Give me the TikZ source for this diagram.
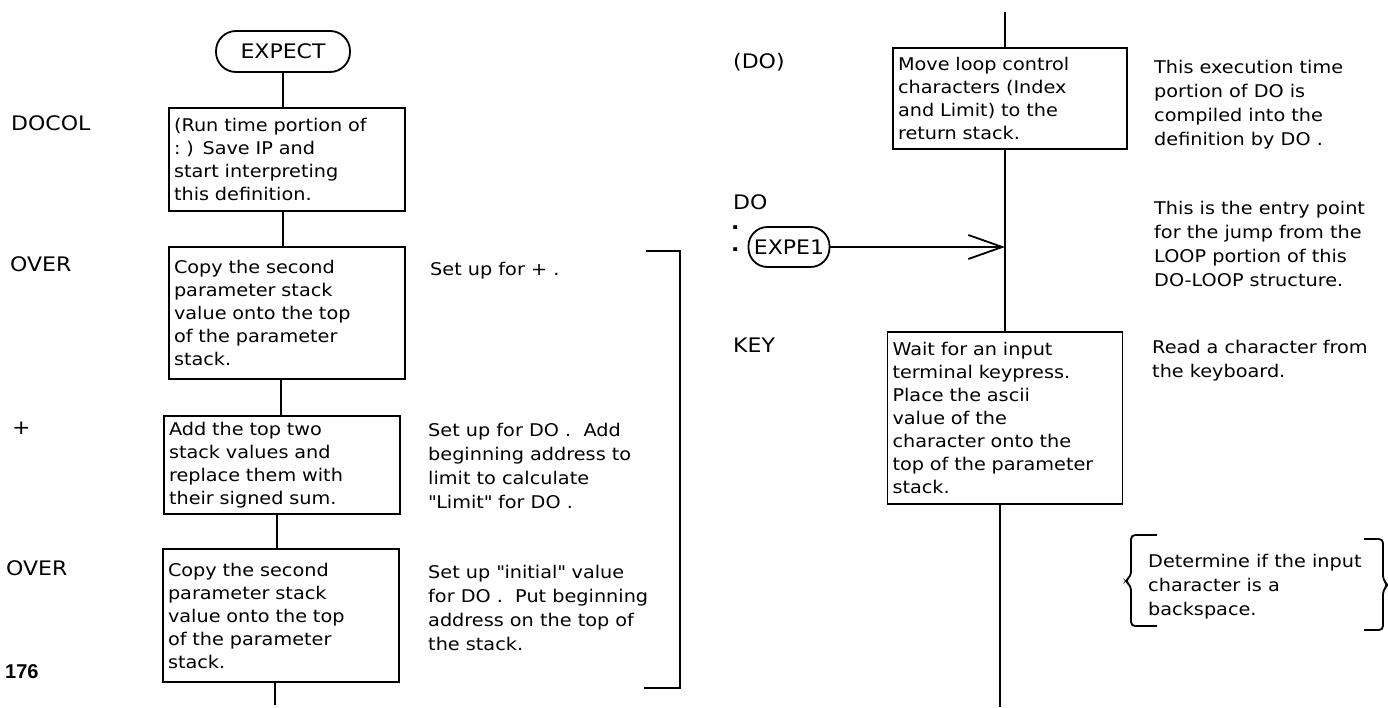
\documentclass[tikz,border=0pt]{standalone}
\usepackage{fontspec}
\setmainfont[FakeStretch=1.1]{DejaVu Sans}
\newfontfamily\pagenumfont{Liberation Sans}
\usetikzlibrary{arrows.meta}
\begin{document}
\begin{tikzpicture}[x=1pt,y=-1pt,
  every node/.style={inner sep=0pt},
  proc/.style={draw, line width=1.8pt, inner xsep=5pt, inner ysep=0pt, align=left,
    font=\fontsize{17.5}{23}\selectfont},
  term/.style={draw, line width=1.8pt, rounded corners=#1, font=\fontsize{20}{24}\selectfont},
  lbl/.style={anchor=west, font=\fontsize{20}{24}\selectfont},
  note/.style={anchor=north west, align=left, font=\fontsize{17.5}{24}\selectfont},
  conn/.style={line width=1.8pt},
  arr/.style={line width=1.8pt, -{Straight Barb[length=34pt,width=24pt]}}
]
\useasboundingbox (0,0) rectangle (1388,707);

% ---- left column ----
\node[term=20pt, minimum width=134pt, minimum height=41pt] (expect) at (283,51.5) {EXPECT};
\node[proc, text width=226pt, minimum height=103pt] (b1) at (287,159.5)
  {(Run time portion of\\:~) Save IP and\\start interpreting\\this definition.};
\node[proc, text width=226pt, minimum height=132pt] (b2) at (287,313)
  {Copy the second\\parameter stack\\value onto the top\\of the parameter\\stack.};
\node[proc, text width=226pt, minimum height=98pt] (b3) at (282,465)
  {Add the top two\\stack values and\\replace them with\\their signed sum.};
\node[proc, text width=226pt, minimum height=133pt] (b4) at (281,615.5)
  {Copy the second\\parameter stack\\value onto the top\\of the parameter\\stack.};

\node[lbl] (lDOCOL) at (11,123) {DOCOL};
\node[lbl] (lOVERa) at (10,264) {OVER};
\node[lbl] (lPLUS) at (12,428) {+};
\node[lbl] (lOVERb) at (6,568) {OVER};
\node[anchor=west, font=\pagenumfont\bfseries\fontsize{20}{24}\selectfont] (pnum) at (5,672) {176};

\node[note] (n2) at (430,262) {Set up for +~.};
\node[note] (n3) at (428,423) {Set up for DO~.~~Add\\beginning address to\\limit to calculate\\\textquotedbl Limit\textquotedbl{} for DO~.};
\node[note] (n4) at (428,565) {Set up \textquotedbl initial\textquotedbl{} value\\for DO~.~~Put beginning\\address on the top of\\the stack.};

\draw[conn] (expect.south) -- (expect.south |- b1.north);
\draw[conn] ([xshift=-4pt]b1.south) -- ([xshift=-4pt]b1.south |- b2.north);
\draw[conn] ([xshift=-6pt]b2.south) -- ([xshift=-6pt]b2.south |- b3.north);
\draw[conn] ([xshift=-5pt]b3.south) -- ([xshift=-5pt]b3.south |- b4.north);
\coordinate (lbot) at (275,705);
\draw[conn] ([xshift=-6pt]b4.south) -- ([xshift=-6pt]b4.south |- lbot);

% bracket
\draw[conn] (646,251) -- (680,251) -- (680,688) -- (644,688);

% ---- right column ----
\node[proc, text width=224pt, minimum height=101pt] (b5) at (1010,98.5)
  {Move loop control\\characters (Index\\and Limit) to the\\return stack.};
\node[proc, text width=225pt, minimum height=172pt] (b6) at (1005,418)
  {Wait for an input\\terminal keypress.\\Place the ascii\\value of the\\character onto the\\top of the parameter\\stack.};
\node[term=19pt, minimum width=81pt, minimum height=40pt] (expe1) at (789,247) {EXPE1};

\node[lbl] (lPDO) at (733,62) {(DO)};
\node[lbl] (lDO) at (733,202) {DO};
\node[lbl, font=\bfseries\fontsize{20}{24}\selectfont] (dota) at (731,228) {.};
\node[lbl, font=\bfseries\fontsize{20}{24}\selectfont] (dotb) at (731,250) {.};
\node[lbl] (lKEY) at (733,345) {KEY};

\node[note] (n5) at (1154,60) {This execution time\\portion of DO is\\compiled into the\\definition by DO~.};
\node[note] (n6) at (1154,201) {This is the entry point\\for the jump from the\\LOOP portion of this\\DO-LOOP structure.};
\node[note] (n7) at (1152,340) {Read a character from\\the keyboard.};
\node[note] (n8) at (1148,554) {Determine if the input\\character is a\\backspace.};

\coordinate (rtop) at (1005,12);
\draw[conn] (rtop) -- (rtop |- b5.north);
\coordinate (j) at ([xshift=-5pt]b5.south);
\draw[conn] (j) -- (j |- b6.north);
\draw[arr] (expe1.east) -- (expe1.east -| j);
\coordinate (rbot) at (1000,707);
\draw[conn] ([xshift=-5pt]b6.south) -- ([xshift=-5pt]b6.south |- rbot);

% braces
\draw[conn, rounded corners=4pt] (1157,535) -- (1131,535) -- (1131,576) -- (1125,581) -- (1131,586) -- (1131,626) -- (1157,626);
\draw[conn, rounded corners=4pt] (1364,539) -- (1383,539) -- (1383,580) -- (1388,585) -- (1383,590) -- (1383,630) -- (1364,630);
\end{tikzpicture}
\end{document}
